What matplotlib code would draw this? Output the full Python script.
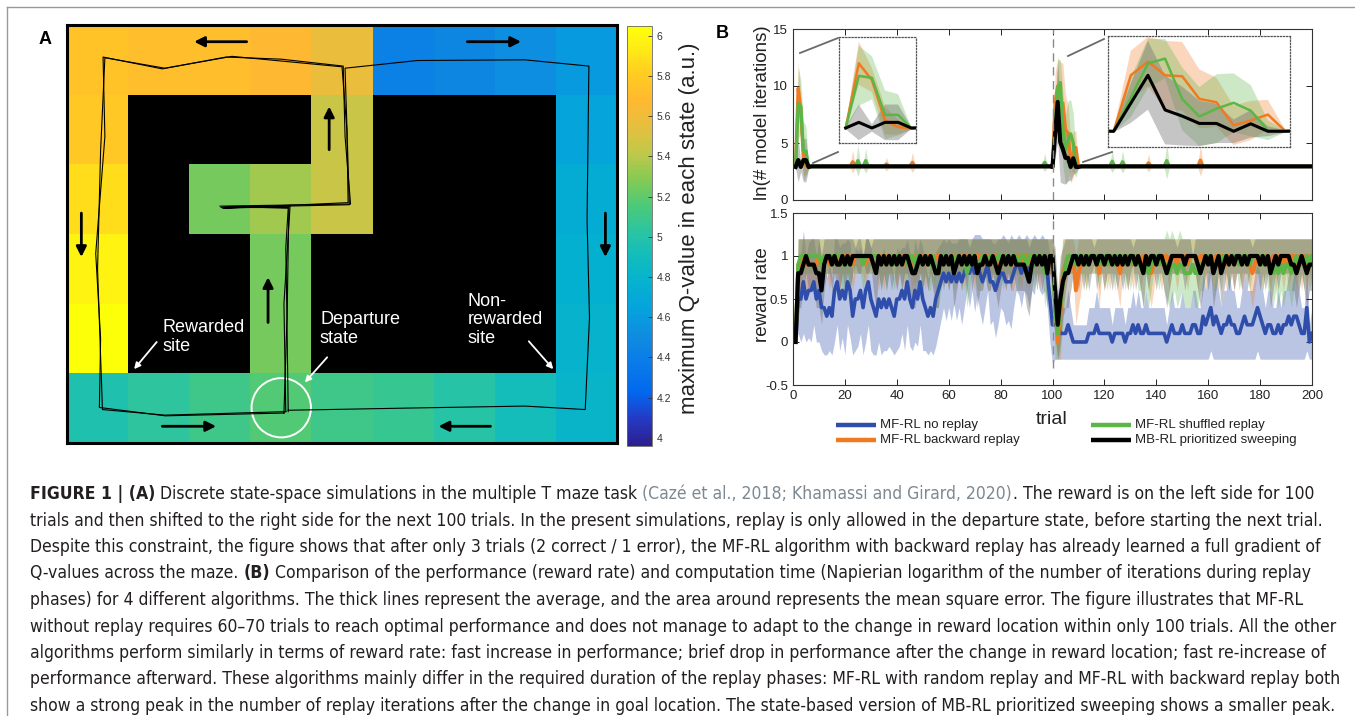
import numpy as np
import matplotlib
matplotlib.use("Agg")
import matplotlib.pyplot as plt
from matplotlib.colors import LinearSegmentedColormap, rgb_to_hsv, hsv_to_rgb
from matplotlib.patches import Ellipse
from matplotlib.lines import Line2D
from matplotlib import font_manager as fm

plt.rcParams['font.family'] = ['Liberation Sans', 'DejaVu Sans']
plt.rcParams['axes.unicode_minus'] = False

# ======================= DATA: panel A (maze) =======================
# maximum Q-value per state (None = wall)
maze_q = [
    [5.75, 5.72, 5.72, 5.68, 5.58, 4.42, 4.46, 4.52, 4.59],
    [5.78, None, None, None, 5.45, None, None, None, 4.66],
    [5.88, None, 5.25, 5.35, 5.45, None, None, None, 4.72],
    [5.98, None, None, 5.25, None, None, None, None, 4.76],
    [6.04, None, None, 5.25, None, None, None, None, 4.79],
    [4.97, 5.04, 5.11, 5.17, 5.11, 5.07, 5.01, 4.91, 4.81],
]
q_ticks = [4.0, 4.2, 4.4, 4.6, 4.8, 5.0, 5.2, 5.4, 5.6, 5.8, 6.0]
q_range = [3.96, 6.048]

# agent trajectories (column, row) in grid units
traj_left_a = [(3.55, 5.57), (3.60, 4.20), (3.58, 3.20), (3.62, 2.63), (2.50, 2.60), (4.64, 2.57),
               (4.55, 1.60), (4.52, 0.59), (3.50, 0.49), (2.60, 0.46), (1.56, 0.63), (0.59, 0.46),
               (0.62, 1.60), (0.47, 3.28), (0.55, 4.50), (0.53, 5.49), (1.61, 5.61), (3.55, 5.57)]
traj_left_b = [(3.58, 5.55), (3.55, 4.00), (3.65, 2.60), (2.55, 2.63), (4.60, 2.55), (4.58, 1.50),
               (4.50, 0.60), (2.70, 0.45), (1.60, 0.62), (0.62, 0.47), (0.55, 1.80), (0.50, 3.50),
               (0.58, 5.52), (1.60, 5.60), (3.58, 5.55)]
traj_right = [(3.62, 5.55), (3.60, 4.30), (3.63, 2.62), (2.52, 2.62), (4.62, 2.58), (4.55, 0.62),
              (5.73, 0.51), (7.49, 0.50), (8.54, 0.59), (8.51, 2.80), (8.55, 4.20), (8.48, 5.52),
              (7.49, 5.47), (5.50, 5.50), (3.62, 5.53)]

# direction arrows (start -> end) in grid units
maze_arrows = [((2.94, 0.24), (2.08, 0.24)), ((6.55, 0.24), (7.43, 0.24)),
               ((0.235, 2.70), (0.235, 3.33)), ((8.81, 2.70), (8.81, 3.33)),
               ((4.29, 1.79), (4.29, 1.17)), ((3.29, 4.27), (3.29, 3.62)),
               ((1.56, 5.76), (2.44, 5.76)), ((6.93, 5.76), (6.08, 5.76))]
maze_labels = ["Rewarded\nsite", "Departure\nstate", "Non-\nrewarded\nsite"]
maze_label_pos = [(1.556, 4.22), (4.14, 4.10), (6.55, 3.84)]
maze_pointers = [((1.468, 4.55), (1.098, 4.94)), ((4.257, 4.77), (3.893, 5.13)),
                 ((7.557, 4.54), (7.957, 4.94))]
departure_state = (3.506, 5.494)

# ======================= DATA: panel B =======================
trials = list(range(1, 201))

rr_blue = [
    0.0, 0.5, 0.5, 0.7, 0.5, 0.6, 0.6, 0.7, 0.5, 0.6, 0.4, 0.4, 0.3, 0.4, 0.3, 0.6, 0.7, 0.5, 0.6, 0.5,
    0.7, 0.6, 0.3, 0.5, 0.5, 0.6, 0.4, 0.6, 0.7, 0.5, 0.4, 0.3, 0.5, 0.4, 0.5, 0.4, 0.5, 0.4, 0.3, 0.5,
    0.5, 0.6, 0.5, 0.7, 0.5, 0.4, 0.6, 0.5, 0.7, 0.5, 0.4, 0.3, 0.4, 0.3, 0.5, 0.6, 0.7, 0.8, 0.7, 0.8,
    0.7, 0.8, 0.7, 0.8, 0.7, 0.8, 0.9, 0.8, 0.9, 0.8, 0.9, 0.8, 0.7, 0.8, 0.9, 0.7, 0.7, 0.6, 0.7, 0.8,
    0.8, 0.7, 0.7, 0.7, 0.8, 0.9, 0.9, 0.8, 0.9, 0.9, 0.8, 0.9, 0.9, 1.0, 0.9, 0.9, 0.9, 0.8, 0.5, 0.2,
    0.2, 0.2, 0.1, 0.1, 0.1, 0.2, 0.1, 0.0, 0.0, 0.0, 0.0, 0.0, 0.0, 0.1, 0.1, 0.1, 0.2, 0.1, 0.1, 0.1,
    0.1, 0.1, 0.0, 0.1, 0.1, 0.1, 0.1, 0.0, 0.1, 0.1, 0.2, 0.1, 0.2, 0.1, 0.1, 0.2, 0.1, 0.1, 0.1, 0.1,
    0.1, 0.1, 0.1, 0.0, 0.1, 0.2, 0.1, 0.1, 0.1, 0.2, 0.1, 0.1, 0.1, 0.2, 0.2, 0.1, 0.1, 0.3, 0.2, 0.3,
    0.4, 0.2, 0.3, 0.2, 0.1, 0.2, 0.2, 0.3, 0.2, 0.2, 0.1, 0.1, 0.2, 0.3, 0.2, 0.2, 0.2, 0.3, 0.4, 0.3,
    0.2, 0.1, 0.2, 0.2, 0.1, 0.1, 0.2, 0.1, 0.2, 0.2, 0.3, 0.2, 0.3, 0.3, 0.2, 0.1, 0.1, 0.4, 0.0, 0.1]
rr_blue_err = [
    0.0, 0.4, 0.5, 0.6, 0.5, 0.55, 0.6, 0.5, 0.5, 0.6, 0.5, 0.55, 0.45, 0.5, 0.45, 0.6, 0.5, 0.6, 0.55, 0.65,
    0.5, 0.55, 0.45, 0.6, 0.55, 0.5, 0.55, 0.6, 0.5, 0.6, 0.55, 0.45, 0.5, 0.55, 0.6, 0.5, 0.55, 0.5, 0.45, 0.6,
    0.55, 0.5, 0.6, 0.5, 0.55, 0.5, 0.6, 0.55, 0.5, 0.6, 0.5, 0.45, 0.5, 0.45, 0.55, 0.5, 0.45, 0.4, 0.45, 0.4,
    0.45, 0.35, 0.45, 0.4, 0.5, 0.4, 0.3, 0.4, 0.3, 0.45, 0.35, 0.45, 0.5, 0.4, 0.3, 0.5, 0.45, 0.55, 0.5, 0.4,
    0.45, 0.5, 0.45, 0.55, 0.4, 0.3, 0.35, 0.4, 0.3, 0.35, 0.4, 0.3, 0.35, 0.2, 0.3, 0.35, 0.3, 0.4, 0.5, 0.45,
    0.4, 0.4, 0.3, 0.3, 0.3, 0.4, 0.3, 0.2, 0.2, 0.2, 0.2, 0.2, 0.2, 0.3, 0.3, 0.3, 0.4, 0.3, 0.3, 0.3,
    0.3, 0.3, 0.2, 0.3, 0.3, 0.3, 0.3, 0.2, 0.3, 0.3, 0.4, 0.3, 0.4, 0.3, 0.3, 0.4, 0.3, 0.3, 0.3, 0.3,
    0.3, 0.3, 0.3, 0.2, 0.3, 0.4, 0.3, 0.3, 0.3, 0.4, 0.3, 0.3, 0.3, 0.4, 0.4, 0.3, 0.3, 0.5, 0.4, 0.5,
    0.5, 0.4, 0.5, 0.4, 0.3, 0.4, 0.4, 0.5, 0.4, 0.4, 0.3, 0.3, 0.4, 0.5, 0.4, 0.4, 0.4, 0.5, 0.5, 0.5,
    0.4, 0.3, 0.4, 0.4, 0.3, 0.3, 0.4, 0.3, 0.4, 0.4, 0.5, 0.4, 0.5, 0.5, 0.4, 0.3, 0.3, 0.5, 0.2, 0.3]

rr_black = [
    0.0, 0.8, 0.8, 0.9, 1.0, 0.9, 0.9, 0.9, 0.8, 0.8, 0.6, 0.9, 1.0, 1.0, 0.9, 1.0, 0.9, 0.9, 1.0, 0.9,
    1.0, 0.9, 1.0, 1.0, 1.0, 1.0, 1.0, 1.0, 1.0, 1.0, 0.9, 0.8, 1.0, 0.9, 1.0, 0.9, 1.0, 0.9, 1.0, 0.9,
    1.0, 0.9, 1.0, 1.0, 0.9, 0.8, 0.8, 0.9, 1.0, 0.9, 1.0, 0.9, 1.0, 0.9, 0.8, 0.8, 1.0, 0.9, 1.0, 0.9,
    1.0, 0.8, 0.9, 1.0, 0.9, 1.0, 0.9, 1.0, 0.9, 1.0, 0.8, 0.9, 0.9, 1.0, 0.9, 0.9, 1.0, 0.9, 0.8, 0.9,
    1.0, 0.9, 1.0, 0.9, 1.0, 0.9, 0.9, 0.9, 0.9, 0.8, 0.7, 0.9, 1.0, 0.9, 1.0, 0.9, 1.0, 0.8, 1.0, 1.0,
    0.6, 0.2, 0.5, 0.7, 0.8, 0.8, 0.9, 1.0, 1.0, 0.9, 1.0, 0.9, 1.0, 0.9, 1.0, 1.0, 0.9, 1.0, 1.0, 0.9,
    1.0, 1.0, 0.9, 1.0, 0.9, 1.0, 0.9, 1.0, 0.9, 1.0, 1.0, 0.9, 1.0, 0.9, 0.8, 1.0, 0.9, 1.0, 1.0, 0.9,
    1.0, 1.0, 0.9, 0.8, 0.9, 1.0, 1.0, 1.0, 1.0, 1.0, 0.9, 1.0, 1.0, 1.0, 1.0, 0.9, 0.8, 0.9, 1.0, 0.9,
    1.0, 0.8, 0.9, 1.0, 0.8, 0.9, 1.0, 0.9, 1.0, 0.9, 1.0, 1.0, 0.9, 1.0, 0.9, 1.0, 1.0, 1.0, 1.0, 0.9,
    1.0, 0.9, 1.0, 0.8, 0.9, 1.0, 0.9, 1.0, 1.0, 1.0, 1.0, 0.9, 0.9, 0.8, 0.9, 1.0, 0.9, 0.8, 0.9, 0.9]
rr_black_err = [
    0.0, 0.4, 0.4, 0.3, 0.2, 0.3, 0.3, 0.3, 0.4, 0.4, 0.4, 0.3, 0.2, 0.2, 0.3, 0.2, 0.3, 0.3, 0.2, 0.3,
    0.2, 0.3, 0.2, 0.1, 0.2, 0.2, 0.0, 0.2, 0.2, 0.1, 0.3, 0.4, 0.2, 0.3, 0.2, 0.3, 0.2, 0.3, 0.2, 0.3,
    0.2, 0.3, 0.2, 0.2, 0.3, 0.4, 0.4, 0.3, 0.2, 0.3, 0.2, 0.3, 0.2, 0.3, 0.4, 0.4, 0.2, 0.3, 0.2, 0.3,
    0.2, 0.4, 0.3, 0.2, 0.3, 0.2, 0.3, 0.1, 0.3, 0.2, 0.4, 0.3, 0.3, 0.2, 0.3, 0.3, 0.2, 0.3, 0.4, 0.3,
    0.2, 0.3, 0.2, 0.3, 0.2, 0.3, 0.3, 0.3, 0.3, 0.4, 0.4, 0.3, 0.2, 0.3, 0.2, 0.3, 0.2, 0.4, 0.2, 0.2,
    0.5, 0.4, 0.5, 0.4, 0.4, 0.4, 0.3, 0.2, 0.2, 0.3, 0.2, 0.3, 0.2, 0.3, 0.2, 0.1, 0.3, 0.2, 0.2, 0.3,
    0.2, 0.2, 0.3, 0.2, 0.3, 0.2, 0.3, 0.2, 0.3, 0.2, 0.1, 0.3, 0.2, 0.3, 0.4, 0.2, 0.3, 0.2, 0.2, 0.3,
    0.2, 0.2, 0.3, 0.4, 0.3, 0.2, 0.2, 0.1, 0.2, 0.2, 0.3, 0.2, 0.2, 0.0, 0.2, 0.3, 0.4, 0.3, 0.2, 0.3,
    0.2, 0.4, 0.3, 0.2, 0.4, 0.3, 0.2, 0.3, 0.2, 0.3, 0.2, 0.2, 0.3, 0.2, 0.3, 0.2, 0.1, 0.2, 0.2, 0.3,
    0.2, 0.3, 0.2, 0.4, 0.3, 0.2, 0.3, 0.2, 0.2, 0.2, 0.2, 0.3, 0.3, 0.4, 0.3, 0.2, 0.3, 0.4, 0.3, 0.3]

rr_green = [
    0.0, 0.9, 1.0, 1.0, 1.0, 1.0, 1.0, 1.0, 1.0, 1.0, 0.9, 1.0, 1.0, 1.0, 1.0, 1.0, 1.0, 1.0, 0.9, 0.9,
    0.9, 0.9, 1.0, 1.0, 1.0, 1.0, 0.9, 1.0, 1.0, 1.0, 1.0, 1.0, 1.0, 0.9, 1.0, 0.9, 1.0, 1.0, 0.9, 1.0,
    1.0, 0.9, 1.0, 0.9, 1.0, 1.0, 0.9, 1.0, 1.0, 0.9, 1.0, 0.9, 0.9, 1.0, 0.8, 0.8, 0.9, 1.0, 1.0, 0.9,
    1.0, 0.9, 1.0, 1.0, 0.9, 1.0, 0.8, 0.9, 1.0, 1.0, 0.9, 0.9, 1.0, 1.0, 0.9, 1.0, 1.0, 0.9, 1.0, 1.0,
    0.9, 1.0, 1.0, 0.9, 1.0, 1.0, 0.9, 1.0, 1.0, 0.9, 1.0, 1.0, 0.9, 1.0, 1.0, 1.0, 0.8, 0.9, 1.0, 1.0,
    0.4, 0.1, 0.4, 0.7, 0.9, 1.0, 1.0, 1.0, 0.9, 1.0, 1.0, 1.0, 0.9, 1.0, 1.0, 1.0, 1.0, 0.9, 1.0, 1.0,
    0.9, 1.0, 1.0, 0.9, 1.0, 1.0, 1.0, 0.9, 1.0, 0.9, 1.0, 1.0, 0.9, 0.9, 0.8, 0.9, 0.8, 0.9, 1.0, 1.0,
    0.9, 1.0, 0.9, 0.9, 0.8, 0.9, 0.9, 0.8, 0.9, 0.9, 0.8, 0.8, 0.8, 0.9, 0.8, 0.8, 0.9, 0.9, 1.0, 1.0,
    1.0, 0.9, 0.9, 1.0, 0.9, 1.0, 1.0, 0.9, 1.0, 1.0, 1.0, 0.9, 1.0, 1.0, 1.0, 0.9, 1.0, 1.0, 1.0, 1.0,
    0.9, 1.0, 0.9, 0.9, 0.8, 0.9, 0.8, 0.9, 0.8, 0.9, 0.9, 0.8, 0.9, 1.0, 0.9, 1.0, 0.9, 1.0, 0.9, 1.0]
rr_green_err = [
    0.0, 0.3, 0.2, 0.2, 0.2, 0.2, 0.2, 0.2, 0.2, 0.2, 0.3, 0.2, 0.2, 0.2, 0.2, 0.2, 0.2, 0.2, 0.3, 0.3,
    0.3, 0.3, 0.2, 0.2, 0.2, 0.2, 0.3, 0.2, 0.2, 0.2, 0.2, 0.2, 0.2, 0.3, 0.2, 0.3, 0.2, 0.2, 0.3, 0.2,
    0.2, 0.3, 0.2, 0.3, 0.2, 0.2, 0.3, 0.2, 0.2, 0.3, 0.2, 0.3, 0.3, 0.2, 0.4, 0.4, 0.3, 0.2, 0.2, 0.3,
    0.2, 0.3, 0.2, 0.2, 0.3, 0.2, 0.4, 0.3, 0.2, 0.2, 0.3, 0.3, 0.2, 0.2, 0.3, 0.2, 0.2, 0.3, 0.2, 0.2,
    0.3, 0.2, 0.2, 0.3, 0.2, 0.2, 0.3, 0.2, 0.2, 0.3, 0.2, 0.2, 0.3, 0.2, 0.2, 0.2, 0.4, 0.3, 0.2, 0.2,
    0.6, 0.3, 0.5, 0.5, 0.3, 0.2, 0.2, 0.2, 0.3, 0.2, 0.2, 0.2, 0.3, 0.2, 0.2, 0.2, 0.2, 0.3, 0.2, 0.2,
    0.3, 0.2, 0.2, 0.3, 0.2, 0.2, 0.2, 0.3, 0.2, 0.3, 0.2, 0.2, 0.3, 0.3, 0.4, 0.3, 0.4, 0.3, 0.2, 0.2,
    0.3, 0.2, 0.3, 0.4, 0.4, 0.4, 0.3, 0.4, 0.4, 0.3, 0.4, 0.4, 0.4, 0.3, 0.4, 0.4, 0.3, 0.3, 0.2, 0.2,
    0.2, 0.3, 0.3, 0.2, 0.3, 0.2, 0.2, 0.3, 0.2, 0.2, 0.2, 0.3, 0.2, 0.2, 0.2, 0.3, 0.2, 0.2, 0.2, 0.2,
    0.3, 0.2, 0.3, 0.3, 0.4, 0.3, 0.4, 0.3, 0.4, 0.3, 0.3, 0.4, 0.3, 0.2, 0.3, 0.2, 0.3, 0.2, 0.3, 0.2]

rr_orange = [
    0.0, 0.9, 0.9, 1.0, 0.9, 0.9, 0.9, 0.9, 0.9, 1.0, 0.9, 1.0, 1.0, 0.9, 1.0, 1.0, 1.0, 0.9, 1.0, 1.0,
    1.0, 1.0, 0.9, 1.0, 1.0, 1.0, 1.0, 0.9, 1.0, 1.0, 1.0, 1.0, 0.9, 1.0, 0.9, 1.0, 1.0, 1.0, 1.0, 0.9,
    1.0, 1.0, 0.9, 1.0, 1.0, 0.9, 1.0, 0.9, 1.0, 1.0, 0.9, 1.0, 1.0, 0.9, 1.0, 1.0, 0.9, 1.0, 1.0, 0.9,
    1.0, 1.0, 0.9, 1.0, 1.0, 0.9, 1.0, 1.0, 1.0, 0.9, 1.0, 1.0, 0.9, 1.0, 1.0, 0.9, 1.0, 1.0, 0.9, 1.0,
    1.0, 0.9, 1.0, 0.9, 0.9, 1.0, 1.0, 0.9, 1.0, 1.0, 0.9, 1.0, 1.0, 1.0, 0.9, 1.0, 1.0, 0.9, 1.0, 0.9,
    0.5, 0.0, 0.3, 0.8, 0.9, 1.0, 1.0, 1.0, 0.6, 0.8, 0.9, 1.0, 0.9, 1.0, 1.0, 1.0, 1.0, 0.8, 1.0, 0.9,
    1.0, 0.9, 1.0, 1.0, 0.9, 0.8, 1.0, 1.0, 0.9, 1.0, 0.9, 1.0, 1.0, 0.9, 1.0, 1.0, 0.9, 0.8, 0.9, 1.0,
    1.0, 0.9, 1.0, 1.0, 0.9, 1.0, 1.0, 0.9, 1.0, 1.0, 1.0, 0.9, 1.0, 1.0, 1.0, 0.9, 1.0, 1.0, 0.9, 1.0,
    1.0, 0.9, 1.0, 0.9, 1.0, 1.0, 0.9, 1.0, 1.0, 0.9, 1.0, 1.0, 0.9, 1.0, 1.0, 0.9, 0.8, 0.9, 1.0, 1.0,
    0.9, 1.0, 1.0, 0.9, 1.0, 0.9, 1.0, 1.0, 0.9, 1.0, 0.9, 1.0, 1.0, 0.9, 1.0, 0.9, 1.0, 0.9, 1.0, 0.9]
rr_orange_err = [
    0.0, 0.3, 0.3, 0.2, 0.3, 0.3, 0.3, 0.3, 0.3, 0.2, 0.3, 0.2, 0.2, 0.3, 0.2, 0.2, 0.2, 0.3, 0.2, 0.2,
    0.2, 0.2, 0.3, 0.2, 0.2, 0.2, 0.2, 0.3, 0.2, 0.2, 0.2, 0.2, 0.3, 0.2, 0.3, 0.2, 0.2, 0.2, 0.2, 0.3,
    0.2, 0.2, 0.3, 0.2, 0.2, 0.3, 0.2, 0.3, 0.2, 0.2, 0.3, 0.2, 0.2, 0.3, 0.2, 0.2, 0.3, 0.2, 0.2, 0.3,
    0.2, 0.2, 0.3, 0.2, 0.2, 0.3, 0.2, 0.2, 0.2, 0.3, 0.2, 0.2, 0.3, 0.2, 0.2, 0.3, 0.2, 0.2, 0.3, 0.2,
    0.2, 0.3, 0.2, 0.3, 0.3, 0.2, 0.2, 0.3, 0.2, 0.2, 0.3, 0.2, 0.2, 0.2, 0.3, 0.2, 0.2, 0.3, 0.2, 0.3,
    0.5, 0.2, 0.5, 0.4, 0.3, 0.2, 0.2, 0.2, 0.4, 0.4, 0.3, 0.2, 0.3, 0.2, 0.2, 0.2, 0.2, 0.4, 0.2, 0.3,
    0.2, 0.3, 0.2, 0.2, 0.3, 0.4, 0.2, 0.2, 0.3, 0.2, 0.3, 0.2, 0.2, 0.3, 0.2, 0.2, 0.3, 0.4, 0.3, 0.2,
    0.2, 0.3, 0.2, 0.2, 0.3, 0.2, 0.2, 0.3, 0.2, 0.2, 0.2, 0.3, 0.2, 0.2, 0.2, 0.3, 0.2, 0.2, 0.3, 0.2,
    0.2, 0.3, 0.2, 0.3, 0.2, 0.2, 0.3, 0.2, 0.2, 0.3, 0.2, 0.2, 0.3, 0.2, 0.2, 0.3, 0.4, 0.3, 0.2, 0.2,
    0.3, 0.2, 0.2, 0.3, 0.2, 0.3, 0.2, 0.2, 0.3, 0.2, 0.3, 0.2, 0.2, 0.3, 0.2, 0.3, 0.2, 0.3, 0.2, 0.3]

# ln(# model iterations): baseline value, then the deviations
ln_base = 2.95
ln_base_err = 0.12
ln_orange_dev = {1: 2.9, 2: 9.8, 3: 8.0, 4: 3.7, 5: 3.0, 6: 2.85, 23: 3.35, 36: 3.15, 46: 3.3,
                 100: 2.9, 101: 8.6, 102: 10.0, 103: 8.6, 104: 8.5, 105: 6.2, 106: 5.85, 107: 3.5,
                 108: 4.0, 109: 4.6, 110: 2.95, 137: 3.25, 157: 3.5}
ln_orange_err_dev = {2: 2.3, 3: 1.3, 4: 1.5, 5: 0.8, 23: 1.0, 36: 0.6, 46: 0.9,
                     101: 2.5, 102: 2.5, 103: 3.5, 104: 3.5, 105: 3.0, 106: 2.5, 107: 2.0,
                     108: 2.0, 109: 1.5, 137: 0.8, 157: 1.4}
ln_green_dev = {1: 2.9, 2: 8.45, 3: 8.25, 4: 4.3, 5: 4.3, 6: 2.85, 25: 3.45, 28: 3.45, 97: 3.3,
                100: 2.9, 101: 6.35, 102: 9.8, 103: 10.3, 104: 6.2, 105: 4.4, 106: 5.2, 107: 5.8,
                108: 5.0, 109: 3.0, 110: 2.9, 123: 3.4, 127: 3.35, 144: 3.45}
ln_green_err_dev = {2: 3.2, 3: 2.3, 4: 2.6, 5: 2.2, 25: 1.4, 28: 1.1, 97: 0.8,
                    101: 2.0, 102: 2.5, 103: 2.0, 104: 3.2, 105: 3.0, 106: 3.5, 107: 3.0,
                    108: 2.6, 109: 1.0, 123: 1.0, 127: 1.0, 144: 1.6}
ln_black_dev = {1: 2.9, 2: 3.5, 3: 2.9, 4: 3.5, 5: 3.5, 6: 2.9,
                100: 2.9, 101: 5.75, 102: 8.6, 103: 5.07, 104: 4.45, 105: 3.7, 106: 3.7,
                107: 2.9, 108: 3.66, 109: 2.9, 110: 2.9}
ln_black_err_dev = {2: 1.9, 3: 0.4, 4: 1.9, 5: 1.9,
                    101: 2.0, 102: 3.5, 103: 3.5, 104: 3.0, 105: 2.3, 106: 2.0, 107: 1.2,
                    108: 1.4, 109: 0.5}

legend_labels = ["MF-RL no replay", "MF-RL backward replay",
                 "MF-RL shuffled replay", "MB-RL prioritized sweeping"]

caption_lines = [
    [("FIGURE 1 | (A)", "bold", "k", False),
     ("Discrete state-space simulations in the multiple T maze task", "normal", "k", True),
     ("(Cazé et al., 2018; Khamassi and Girard, 2020)", "normal", "g", True),
     (". The reward is on the left side for 100", "normal", "k", False)],
    [("trials and then shifted to the right side for the next 100 trials. In the present simulations, "
      "replay is only allowed in the departure state, before starting the next trial.", "normal", "k", False)],
    [("Despite this constraint, the figure shows that after only 3 trials (2 correct / 1 error), the MF-RL "
      "algorithm with backward replay has already learned a full gradient of", "normal", "k", False)],
    [("Q-values across the maze.", "normal", "k", False), ("(B)", "bold", "k", True),
     ("Comparison of the performance (reward rate) and computation time (Napierian logarithm of the "
      "number of iterations during replay", "normal", "k", True)],
    [("phases) for 4 different algorithms. The thick lines represent the average, and the area around "
      "represents the mean square error. The figure illustrates that MF-RL", "normal", "k", False)],
    [("without replay requires 60\u201370 trials to reach optimal performance and does not manage to adapt "
      "to the change in reward location within only 100 trials. All the other", "normal", "k", False)],
    [("algorithms perform similarly in terms of reward rate: fast increase in performance; brief drop in "
      "performance after the change in reward location; fast re-increase of", "normal", "k", False)],
    [("performance afterward. These algorithms mainly differ in the required duration of the replay phases: "
      "MF-RL with random replay and MF-RL with backward replay both", "normal", "k", False)],
    [("show a strong peak in the number of replay iterations after the change in goal location. The "
      "state-based version of MB-RL prioritized sweeping shows a smaller peak.", "normal", "k", False)],
]
caption_right_limit = 1345

for _arr in (rr_blue, rr_blue_err, rr_black, rr_black_err, rr_green, rr_green_err, rr_orange, rr_orange_err):
    assert len(_arr) == 200, len(_arr)

# ======================= FIGURE =======================
W, H = 1355, 716
fig = plt.figure(figsize=(W / 100, H / 100), dpi=100)


def fx(px):
    return px / W


def fy(py):
    return 1 - py / H


def axes_px(left, top, right, bottom, **kw):
    return fig.add_axes([left / W, 1 - bottom / H, (right - left) / W, (bottom - top) / H], **kw)


# frame lines of the page
fig.add_artist(Line2D([fx(7), fx(7)], [fy(7), 0], color="#9a9a9a", lw=1.0))
fig.add_artist(Line2D([fx(7), 1], [fy(7), fy(7)], color="#9a9a9a", lw=1.0))

# parula-like colormap (slightly livelier, like the printed figure)
parula_anchor = [
    (0, (0.2081, 0.1663, 0.5292)), (4, (0.1959, 0.2645, 0.7279)), (8, (0.0117, 0.3875, 0.8820)),
    (12, (0.0498, 0.4586, 0.8641)), (16, (0.0793, 0.5200, 0.8312)), (20, (0.0343, 0.5966, 0.8199)),
    (24, (0.0228, 0.6535, 0.7768)), (28, (0.0843, 0.6928, 0.7062)), (32, (0.2178, 0.7250, 0.6193)),
    (36, (0.3953, 0.7459, 0.5244)), (40, (0.5709, 0.7485, 0.4494)), (44, (0.7184, 0.7411, 0.3905)),
    (48, (0.8507, 0.7299, 0.3360)), (52, (0.9739, 0.7314, 0.2666)), (56, (0.9880, 0.8066, 0.1794)),
    (60, (0.9589, 0.8949, 0.1132)), (63, (0.9763, 0.9831, 0.0538))]
_cols = []
for i, c in parula_anchor:
    hsv = rgb_to_hsv(np.array(c))
    hsv[1] = hsv[1] + (1 - hsv[1]) * 0.3
    hsv[2] = min(1.0, hsv[2] * 1.06)
    _cols.append((i / 63, tuple(hsv_to_rgb(hsv))))
parula = LinearSegmentedColormap.from_list("parula", _cols, N=256)
parula.set_bad("black")

# ---------------- Panel A ----------------
axA = axes_px(67, 25, 617, 443)
qarr = np.array([[np.nan if v is None else v for v in row] for row in maze_q], dtype=float)
im = axA.imshow(np.ma.masked_invalid(qarr), cmap=parula, vmin=q_range[0], vmax=q_range[1],
                extent=[0, 9, 6, 0], aspect="auto", interpolation="nearest")
axA.set_xlim(0, 9)
axA.set_ylim(6, 0)
axA.set_xticks([])
axA.set_yticks([])
for s in axA.spines.values():
    s.set_linewidth(2.2)
    s.set_color("black")

for path in (traj_left_a, traj_left_b, traj_right):
    xs, ys = zip(*path)
    axA.plot(xs, ys, color="black", lw=0.8)

for (x0, y0), (x1, y1) in maze_arrows:
    axA.annotate("", xy=(x1, y1), xytext=(x0, y0),
                 arrowprops=dict(arrowstyle="-|>", color="black", lw=2.0, mutation_scale=15,
                                 shrinkA=0, shrinkB=0))
for txt, (x, y) in zip(maze_labels, maze_label_pos):
    axA.text(x, y, txt, color="white", fontsize=13, ha="left", va="top", linespacing=1.15)
for (x0, y0), (x1, y1) in maze_pointers:
    axA.annotate("", xy=(x1, y1), xytext=(x0, y0),
                 arrowprops=dict(arrowstyle="-|>", color="white", lw=1.3, mutation_scale=9,
                                 shrinkA=0, shrinkB=0))
axA.add_patch(Ellipse(departure_state, width=0.972, height=0.851, fill=False, ec="white", lw=1.4))

fig.text(fx(45), fy(40), "A", fontsize=13, fontweight="bold", ha="center", va="center")

# colorbar
cax = axes_px(627, 26, 652, 446)
cb = fig.colorbar(im, cax=cax)
cb.set_ticks(q_ticks)
cb.set_ticklabels(["%g" % t for t in q_ticks])
cax.tick_params(direction="in", length=3, labelsize=7.5, width=0.6, colors="#333333")
cb.outline.set_linewidth(0.6)
cb.outline.set_edgecolor("#666666")
fig.text(fx(690), fy(228), "maximum Q-value in each state (a.u.)", rotation=90, fontsize=16,
         ha="center", va="center", color="#222222")

# ---------------- Panel B ----------------
fig.text(fx(722), fy(33), "B", fontsize=13, fontweight="bold", ha="center", va="center")

C_BLUE, C_ORANGE, C_GREEN, C_BLACK = "#2f4eab", "#f07a22", "#5cb646", "#000000"
C_GRAYBAND = "#6e6e6e"
x = np.array(trials, dtype=float)


def build(dev):
    return np.array([dev.get(t, ln_base) for t in trials], dtype=float)


def build_err(dev):
    return np.array([dev.get(t, ln_base_err) for t in trials], dtype=float)


ln_o, ln_oe = build(ln_orange_dev), build_err(ln_orange_err_dev)
ln_g, ln_ge = build(ln_green_dev), build_err(ln_green_err_dev)
ln_k, ln_ke = build(ln_black_dev), build_err(ln_black_err_dev)


def style_b(ax):
    ax.set_xlim(0, 200)
    ax.set_xticks(range(0, 201, 20))
    ax.tick_params(direction="in", top=True, right=True, length=4, width=0.7,
                   labelsize=9.5, colors="#222222")
    for s in ax.spines.values():
        s.set_linewidth(0.8)
        s.set_color("#333333")


def draw_ln(ax, lw_main=2.4, lw_black=3.0):
    ax.fill_between(x, ln_o - ln_oe, ln_o + ln_oe, color=C_ORANGE, alpha=0.3, lw=0)
    ax.fill_between(x, ln_g - ln_ge, ln_g + ln_ge, color=C_GREEN, alpha=0.3, lw=0)
    ax.fill_between(x, ln_k - ln_ke, ln_k + ln_ke, color=C_GRAYBAND, alpha=0.4, lw=0)
    ax.plot(x, ln_o, color=C_ORANGE, lw=lw_main)
    ax.plot(x, ln_g, color=C_GREEN, lw=lw_main)
    ax.plot(x, ln_k, color=C_BLACK, lw=lw_black)


axT = axes_px(793, 29, 1312, 200)
draw_ln(axT)
axT.axvline(100, color="#8a8a8a", lw=1.0, dashes=(6, 4))
axT.set_ylim(0, 15)
axT.set_yticks([0, 5, 10, 15])
style_b(axT)
axT.set_xticklabels([])

# insets
for (l, t, r, b), xl in [((839, 37, 916, 143), (0.49, 6.36)), ((1108, 36, 1290, 147), (99.67, 110.29))]:
    axi = axes_px(l, t, r, b)
    draw_ln(axi, lw_main=1.8, lw_black=2.2)
    axi.set_xlim(*xl)
    axi.set_ylim(1.3, 12.6)
    axi.set_xticks([])
    axi.set_yticks([])
    axi.set_facecolor("white")
    for s in axi.spines.values():
        s.set_linestyle((0, (1, 1.5)))
        s.set_linewidth(0.9)
        s.set_color("#555555")

for (x0, y0), (x1, y1) in [((800, 53), (838, 38)), ((813, 163), (838, 152)),
                           ((1068, 56), (1104, 39)), ((1083, 162), (1112, 152))]:
    fig.add_artist(Line2D([fx(x0), fx(x1)], [fy(y0), fy(y1)], color="#6a6a6a", lw=1.3))

fig.text(fx(762), fy(113), "ln(# model iterations)", rotation=90, fontsize=13.5,
         ha="center", va="center", color="#222222")

# reward rate
axR = axes_px(793, 213, 1312, 385)
series = [(rr_blue, rr_blue_err, C_BLUE, 0.33, 2.6), (rr_orange, rr_orange_err, C_ORANGE, 0.3, 2.8),
          (rr_green, rr_green_err, C_GREEN, 0.3, 2.8), (rr_black, rr_black_err, C_GRAYBAND, 0.4, 3.0)]
for m, e, c, a, _ in series:
    m, e = np.array(m), np.array(e)
    axR.fill_between(x, m - e, m + e, color=c, alpha=a, lw=0)
for (m, e, c, a, lw), lc in zip(series, [C_BLUE, C_ORANGE, C_GREEN, C_BLACK]):
    axR.plot(x, m, color=lc, lw=lw)
axR.vlines(100, -0.3, 1.5, color="#8a8a8a", lw=1.0, linestyles=(0, (6, 4)))
axR.set_ylim(-0.5, 1.5)
axR.set_yticks([-0.5, 0, 0.5, 1, 1.5])
axR.set_yticklabels(["-0.5", "0", "0.5", "1", "1.5"])
style_b(axR)
fig.text(fx(762), fy(295), "reward rate", rotation=90, fontsize=13.5, ha="center", va="center",
         color="#222222")
fig.text(fx(1052), fy(420), "trial", fontsize=14, ha="center", va="center", color="#222222")

# legend
leg_pos = [(836, 425), (836, 440), (1091, 425), (1091, 440)]
for (lx, ly), lab, c in zip(leg_pos, legend_labels, [C_BLUE, C_ORANGE, C_GREEN, C_BLACK]):
    fig.add_artist(Line2D([fx(lx), fx(lx + 40)], [fy(ly), fy(ly)], color=c, lw=3.2,
                          solid_capstyle="butt"))
    fig.text(fx(lx + 44), fy(ly), lab, fontsize=9.5, ha="left", va="center", color="#222222")

# ---------------- caption ----------------
def pick_caption_fonts():
    reg = bold = None
    for f in fm.fontManager.ttflist:
        if f.name == "Liberation Sans Narrow":
            if f.weight in (700, "bold") and f.style == "normal":
                bold = f.fname
            elif f.weight in (400, "normal", "regular") and f.style == "normal":
                reg = f.fname
    if reg is None:
        for f in fm.fontManager.ttflist:
            if f.name == "DejaVu Sans" and f.stretch == "condensed" and f.style == "normal":
                if f.weight in (700, "bold"):
                    bold = f.fname
                elif f.weight in (400, "normal", "regular"):
                    reg = f.fname
    if reg is not None:
        return (lambda fs: fm.FontProperties(fname=reg, size=fs),
                lambda fs: fm.FontProperties(fname=bold or reg, size=fs))
    return (lambda fs: fm.FontProperties(family=["Liberation Sans", "DejaVu Sans"], size=fs),
            lambda fs: fm.FontProperties(family=["Liberation Sans", "DejaVu Sans"], weight="bold", size=fs))


prop_reg, prop_bold = pick_caption_fonts()
cap_colors = {"k": "#231f20", "g": "#7d8891"}
renderer = fig.canvas.get_renderer()


def text_width(s, fs, weight="normal"):
    p = prop_bold(fs) if weight == "bold" else prop_reg(fs)
    t = fig.text(0, 0, s, fontproperties=p)
    w = t.get_window_extent(renderer).width
    t.remove()
    return w


def line_width(runs, fs):
    sp = text_width("a a", fs) - text_width("aa", fs)
    tot = 0.0
    for j, (txt, weight, col, sep) in enumerate(runs):
        if j > 0:
            tot += sp if sep else 1.0
        tot += text_width(txt, fs, weight)
    return tot


fs0 = 12.0
fs_cap = min(fs0 * (caption_right_limit - 30.0) / line_width(runs, fs0) for runs in caption_lines)
fs_cap = min(fs_cap, 14.0)
space_w = text_width("a a", fs_cap) - text_width("aa", fs_cap)

y_base = 499.0
for i, runs in enumerate(caption_lines):
    xp = 30.0
    yp = y_base + 26.5 * i
    for j, (txt, weight, col, sep) in enumerate(runs):
        if j > 0:
            xp += space_w if sep else 1.0
        p = prop_bold(fs_cap) if weight == "bold" else prop_reg(fs_cap)
        t = fig.text(fx(xp), fy(yp), txt, fontproperties=p,
                     color=cap_colors[col], ha="left", va="baseline")
        xp += t.get_window_extent(renderer).width

fig.savefig("out.png", dpi=100)
